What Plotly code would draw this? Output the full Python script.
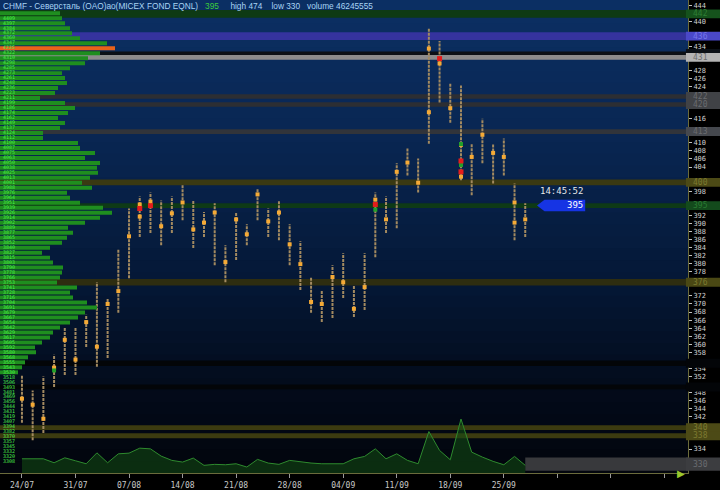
import numpy as np
import plotly.graph_objects as go

# ---------------- data ----------------
week_labels = ["24/07", "31/07", "07/08", "14/08", "21/08", "28/08", "04/09", "11/09", "18/09", "25/09", "", "", ""]
week_ticks = [0, 5, 10, 15, 20, 25, 30, 35, 40, 45, 50, 55, 60]

high = [352.3, 348.5, 352.0, 357.4, 364.3, 364.3, 367.3, 375.4, 371.5, 383.6, 393.7, 396.7,
        397.7, 395.7, 396.7, 399.7, 395.7, 392.8, 395.0, 384.6, 392.8, 389.8, 398.7, 393.7,
        395.7, 389.8, 385.6, 376.7, 373.5, 379.6, 382.6, 374.7, 382.6, 397.7, 396.7, 404.9,
        408.8, 406.1, 438.3, 435.3, 424.9, 424.2, 409.8, 416.0, 409.8, 411.1, 399.9, 395.0]
low = [340.5, 336.2, 338.0, 349.4, 352.4, 352.4, 359.3, 354.4, 356.6, 367.8, 376.4, 386.6,
       387.6, 384.6, 387.6, 390.8, 383.9, 386.6, 379.6, 375.4, 380.9, 384.6, 390.8, 386.6,
       385.8, 379.6, 373.5, 367.8, 365.5, 366.5, 371.5, 366.8, 368.5, 381.6, 387.6, 388.8,
       401.9, 397.7, 409.8, 420.0, 415.0, 400.7, 397.0, 404.9, 399.9, 401.9, 385.8, 386.6]

mark_idx = [0, 1, 2, 3, 4, 5, 6, 7, 8, 9, 10, 11, 11, 12, 13, 14, 15, 16, 17, 18, 19, 20, 21, 22,
            23, 24, 25, 26, 27, 28, 29, 30, 31, 32, 33, 34, 35, 36, 37, 38, 38, 39, 40, 41, 41,
            42, 43, 44, 45, 46, 46, 47]
mark_price = [346.5, 345.0, 341.5, 354.2, 361.1, 356.2, 365.5, 359.4, 370.0, 373.2, 386.8, 394.7,
              391.7, 395.4, 389.3, 392.5, 395.2, 388.5, 390.2, 392.7, 380.4, 391.0, 387.3, 397.2,
              390.5, 392.7, 384.8, 379.9, 370.5, 370.0, 376.7, 375.4, 368.8, 374.2, 395.9, 391.0,
              402.8, 405.1, 400.1, 433.4, 417.6, 429.7, 418.6, 409.5, 401.6, 406.5, 412.0, 407.5,
              406.5, 395.2, 390.2, 391.0]
red_idx = [11, 12, 33, 39, 41, 41]
red_price = [393.7, 394.4, 394.7, 430.9, 405.5, 402.8]
green_idx = [3, 33, 41, 41]
green_price = [353.5, 393.4, 409.7, 404.5]

volume_k = [286, 286, 286, 206, 306, 246, 186, 406, 206, 386, 400, 500, 486, 340, 254, 220,
            300, 154, 174, 166, 186, 120, 274, 200, 174, 254, 220, 200, 186, 186, 186, 286,
            334, 486, 286, 386, 254, 186, 834, 454, 266, 1086, 420, 320, 234, 166, 334, 154]

profile_top = 442.15
profile_step = 1.2376
profile_vol = [60, 62, 65, 70, 72, 80, 107, 115, 100, 88, 85, 70, 62, 65, 67, 58, 55, 40, 65, 75,
               68, 58, 65, 60, 43, 43, 78, 80, 95, 85, 100, 97, 98, 90, 82, 92, 67, 70, 80, 103,
               112, 100, 85, 68, 73, 67, 62, 50, 42, 50, 53, 63, 62, 60, 57, 77, 70, 73, 87, 97,
               85, 78, 70, 60, 53, 50, 42, 35, 36, 28, 25, 22, 18]
profile_label_low = 330.5

band_price = [442.0, 436.5, 432.2, 431.2, 421.5, 419.5, 412.8, 400.2, 394.4, 375.4, 355.3, 349.4, 339.3, 337.3]
band_label = ["442", "436", "", "431", "422", "420", "413", "400", "395", "376", "", "", "340", "338"]
gray_zone = (328.6, 331.9)
gray_label = "330"

last_price = 395
last_time = "14:45:52"
header_name = "CHMF - Северсталь (OAO)ao(MICEX FOND EQNL)"
header_high, header_low, header_volume = 474, 330, 46245555

# ---------------- styles ----------------
band_color = ["#0e3a14", "#35339e", "#0b1016", "#8c8c8c", "#2c2e33", "#2c2e33", "#31343a",
              "#3a3912", "#0e3a16", "#2e2d10", "#030508", "#030508", "#3c3b10", "#3c3b10"]
band_box = ["#15521c", "#4a48c8", "#0b1016", "#b4b4b4", "#404246", "#404246", "#45484e",
            "#4c4a16", "#134a1c", "#4a4814", "#030508", "#030508", "#4c4a16", "#4c4a16"]
band_text = ["#2f7f35", "#7676e8", "#0b1016", "#6e6e6e", "#6a6c70", "#6a6c70", "#6a6c70",
             "#7c7a30", "#2a7a32", "#7c7a30", "#030508", "#030508", "#7c7a30", "#7c7a30"]
band_thick = [1.9, 1.9, 0.9, 1.2, 1.1, 1.1, 1.2, 1.4, 1.2, 1.6, 1.4, 1.2, 1.2, 1.2]

Y0, Y1 = 328.05, 445.45
X0, X1 = -2.05, 62.2
PAPER_R = 720 / 688

fig = go.Figure()
n = len(high)
idx = list(range(n))

# background gradient (styling only)
stops = [(0.0, (2, 5, 12)), (0.15, (3, 10, 24)), (0.4, (5, 24, 54)), (0.7, (9, 38, 82)), (1.0, (12, 48, 100))]
shapes = []
nb = 40
for k in range(nb):
    t = (k + 0.5) / nb
    for (a, ca), (b, cb) in zip(stops[:-1], stops[1:]):
        if a <= t <= b:
            f = (t - a) / (b - a)
            c = tuple(int(ca[j] + (cb[j] - ca[j]) * f) for j in range(3))
            break
    shapes.append(dict(type="rect", xref="paper", yref="paper", x0=0, x1=1, y0=k / nb, y1=(k + 1) / nb + 0.002,
                       fillcolor="rgb(%d,%d,%d)" % c, line=dict(width=0), layer="below"))

annotations = []
hidden = []
for p, lab, col, box, tc, th in zip(band_price, band_label, band_color, band_box, band_text, band_thick):
    shapes.append(dict(type="rect", xref="paper", yref="y", x0=0, x1=1, y0=p - th / 2, y1=p + th / 2,
                       fillcolor=col, line=dict(width=0), layer="below"))
    bh = max(th, 2.2) / 2
    hidden.append((p - (1.9 if lab else bh), p + (1.9 if lab else bh)))
    shapes.append(dict(type="rect", xref="paper", yref="y", x0=0.997, x1=PAPER_R, y0=p - bh, y1=p + bh,
                       fillcolor=box, line=dict(width=0), layer="above"))
    if lab:
        annotations.append(dict(xref="paper", yref="y", x=1.004, y=p, xanchor="left", yanchor="middle",
                                text=lab, showarrow=False,
                                font=dict(family="DejaVu Sans Mono", size=8, color=tc)))

# grey zone after the last bar at the bottom
shapes.append(dict(type="rect", xref="x", yref="y", x0=n - 1, x1=X1, y0=gray_zone[0], y1=gray_zone[1],
                   fillcolor="#38393c", line=dict(width=0), layer="below"))
shapes.append(dict(type="rect", xref="paper", yref="y", x0=0.997, x1=PAPER_R, y0=gray_zone[0], y1=gray_zone[1],
                   fillcolor="#3c3d40", line=dict(width=0), layer="above"))
hidden.append((gray_zone[0], gray_zone[1] + 0.9))
annotations.append(dict(xref="paper", yref="y", x=1.004, y=sum(gray_zone) / 2, xanchor="left", yanchor="middle",
                        text=gray_label, showarrow=False,
                        font=dict(family="DejaVu Sans Mono", size=8, color="#6a6c70")))

# y ticks every 2, skipping those covered by level boxes
ytick_vals = [v for v in range(330, 446, 2) if not any(lo - 0.05 <= v <= hi + 0.05 for lo, hi in hidden)]

# volume area
fig.add_trace(go.Scatter(x=idx, y=volume_k, yaxis="y2", mode="lines",
                         line=dict(color="#2e8a2e", width=1), fill="tozeroy",
                         fillcolor="rgba(20,78,20,0.55)", hoverinfo="skip"))

# volume profile (left)
levels = [profile_top - profile_step * k for k in range(len(profile_vol))]
poc = int(np.argmax(profile_vol))
pcol = ["#e8621a" if k == poc else "#1f8e1f" for k in range(len(profile_vol))]
fig.add_trace(go.Bar(x=profile_vol, y=levels, orientation="h", xaxis="x3", yaxis="y",
                     width=profile_step * 0.8, marker=dict(color=pcol, line=dict(width=0)),
                     hoverinfo="skip"))
lab_levels = []
v = profile_top - profile_step
while v >= profile_label_low:
    lab_levels.append(v)
    v -= profile_step
fig.add_trace(go.Scatter(x=[9] * len(lab_levels), y=lab_levels, xaxis="x3", yaxis="y", mode="text",
                         text=["%.0f" % (l * 10) for l in lab_levels],
                         textfont=dict(family="DejaVu Sans Mono", size=5, color="#4cf04c"),
                         hoverinfo="skip"))

# bars (high-low)
cx, cy = [], []
for i, (h, l) in enumerate(zip(high, low)):
    cx += [i, i, None]
    cy += [l, h, None]
fig.add_trace(go.Scatter(x=cx, y=cy, mode="lines", line=dict(color="#a38a60", width=2, dash="3px,1px"),
                         hoverinfo="skip"))
fig.add_trace(go.Scatter(x=mark_idx, y=mark_price, mode="markers",
                         marker=dict(symbol="square", size=4, color="#f5aa36", line=dict(width=0))))
fig.add_trace(go.Scatter(x=green_idx, y=green_price, mode="markers",
                         marker=dict(symbol="square", size=4, color="#22a02a", line=dict(width=0))))
fig.add_trace(go.Scatter(x=red_idx, y=red_price, mode="markers",
                         marker=dict(symbol="square", size=5, color="#e41c1c", line=dict(width=0))))

# last price tag
xl, xr = n + 0.1, n + 4.6
yc = last_price - 0.55
yt, yb = yc + 1.45, yc - 1.45
shapes.append(dict(type="path", xref="x", yref="y",
                   path="M %f,%f L %f,%f L %f,%f L %f,%f L %f,%f Z" % (xl, yc, xl + 0.7, yt, xr, yt, xr, yb, xl + 0.7, yb),
                   fillcolor="#1634e4", line=dict(width=0), layer="above"))
annotations.append(dict(x=xr, y=yc, xref="x", yref="y", xanchor="right", yanchor="middle", text=str(last_price),
                        showarrow=False, font=dict(family="DejaVu Sans Mono", size=9, color="#ffffff")))
annotations.append(dict(x=xr, y=yt + 0.3, xref="x", yref="y", xanchor="right", yanchor="bottom", text=last_time,
                        showarrow=False, font=dict(family="DejaVu Sans Mono", size=9, color="#e8e8e8")))

# header
sp = "&nbsp;"
annotations.append(dict(xref="paper", yref="paper", x=0, y=1, xanchor="left", yanchor="top", xshift=1, yshift=1,
                        showarrow=False, align="left",
                        text=(header_name + sp * 3 + "<span style='color:#3ccc3c'>%d</span>" % last_price
                              + sp * 5 + "high %d" % header_high + sp * 4 + "low %d" % header_low
                              + sp * 3 + "volume %d" % header_volume),
                        font=dict(family="Liberation Sans", size=8.3, color="#a9d4f4")))
# axis end triangle
annotations.append(dict(xref="paper", yref="paper", x=0.998, y=0, xanchor="right", yanchor="middle",
                        text="▶", showarrow=False, font=dict(size=10, color="#9ac82c")))

fig.update_layout(
    width=720, height=490, margin=dict(l=0, r=32, t=0, b=14),
    paper_bgcolor="#000000", plot_bgcolor="#000000", showlegend=False,
    shapes=shapes, annotations=annotations,
    xaxis=dict(range=[X0, X1], tickvals=week_ticks, ticktext=week_labels, showgrid=False, zeroline=False,
               showline=True, linecolor="#6b6b3c", linewidth=1, ticks="outside", ticklen=4, tickcolor="#9a9a9a",
               tickfont=dict(family="DejaVu Sans Mono", size=8, color="#c8c8c8")),
    yaxis=dict(range=[Y0, Y1], side="right", tickvals=ytick_vals, showgrid=False, zeroline=False,
               showline=True, linecolor="#6b6b3c", linewidth=1, ticks="outside", ticklen=3, tickcolor="#c0c0c0",
               tickfont=dict(family="DejaVu Sans Mono", size=7, color="#d0d0d0")),
    yaxis2=dict(overlaying="y", range=[0, 9520], visible=False),
    xaxis3=dict(overlaying="x", range=[0, 688], visible=False),
)

fig.write_html("out.html", config={"displayModeBar": False},
               post_script="document.body.style.margin='0';document.body.style.background='#000';")
